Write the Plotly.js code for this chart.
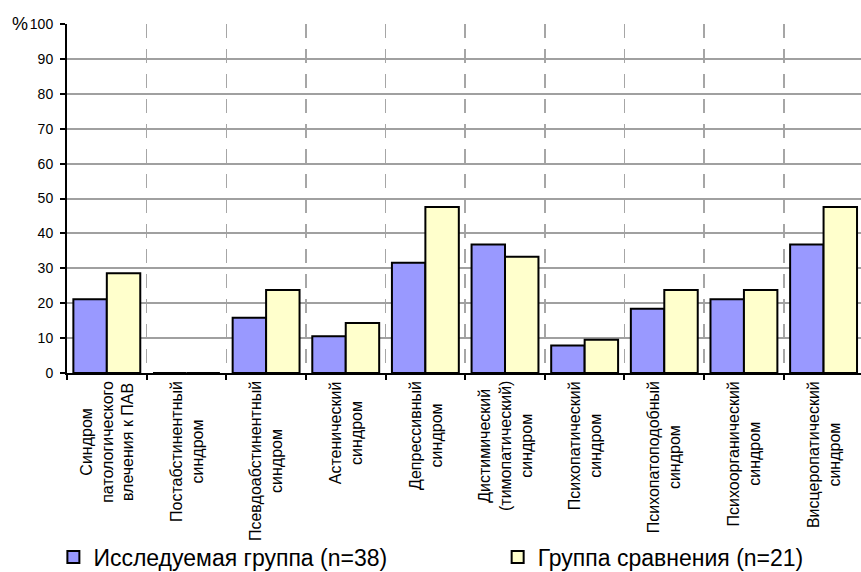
<!DOCTYPE html>
<html>
<head>
<meta charset="utf-8">
<script src="https://cdn.plot.ly/plotly-3.0.1.min.js"></script>
<style>html,body{margin:0;padding:0;background:#fff;}#chart{width:861px;height:572px;}</style>
</head>
<body>
<div id="chart"></div>
<script>
const categories = [
  "Синдром<br>патологического<br>влечения к ПАВ",
  "Постабстинентный<br>синдром",
  "Псевдоабстинентный<br>синдром",
  "Астенический<br>синдром",
  "Депрессивный<br>синдром",
  "Дистимический<br>(тимопатический)<br>синдром",
  "Психопатический<br>синдром",
  "Психопатоподобный<br>синдром",
  "Психоорганический<br>синдром",
  "Висцеропатический<br>синдром"
];
const studyGroup = [21.1, 0, 15.8, 10.5, 31.6, 36.8, 7.9, 18.4, 21.1, 36.8];
const compareGroup = [28.6, 0, 23.8, 14.3, 47.6, 33.3, 9.5, 23.8, 23.8, 47.6];
const seriesNames = ["Исследуемая группа (n=38)", "Группа сравнения (n=21)"];
const yTicks = [0, 10, 20, 30, 40, 50, 60, 70, 80, 90, 100];

const font = "Liberation Sans, Arial, sans-serif";

const traces = [
  {type: "bar", name: seriesNames[0], x: categories, y: studyGroup, legend: "legend",
   marker: {color: "#9999ff", line: {color: "#000", width: 2}}},
  {type: "bar", name: seriesNames[1], x: categories, y: compareGroup, legend: "legend2",
   marker: {color: "#ffffcc", line: {color: "#000", width: 2}}}
];

const annotations = categories.map((c) => ({
  x: c, y: 0, xref: "x", yref: "y", text: c, textangle: -90,
  showarrow: false, xanchor: "center", yanchor: "top", yshift: -6, align: "center",
  font: {family: font, size: 16, color: "#000"}
}));
annotations.push({
  x: 0, y: 1, xref: "paper", yref: "paper", text: "%", showarrow: false,
  xanchor: "left", yanchor: "middle", xshift: -57, yshift: 0,
  font: {family: font, size: 18, color: "#000"}
});

const legendBase = {
  orientation: "h", xref: "container", yref: "container", xanchor: "left", yanchor: "middle",
  y: 0.026, font: {family: font, size: 23, color: "#000"}, bgcolor: "rgba(0,0,0,0)",
  borderwidth: 0
};

const layout = {
  width: 861, height: 572,
  margin: {l: 67, r: 0, t: 24, b: 199},
  paper_bgcolor: "#fff", plot_bgcolor: "#fff",
  barmode: "group", bargap: 0.16, bargroupgap: 0,
  xaxis: {
    type: "category", range: [-0.5, 9.47], showticklabels: false,
    tickson: "boundaries", ticks: "outside", ticklen: 5, tickwidth: 2, tickcolor: "#000",
    showgrid: true, gridcolor: "#a6a6a6", gridwidth: 1.5, griddash: "14px,11px",
    showline: true, linecolor: "#000", linewidth: 2, zeroline: false
  },
  yaxis: {
    range: [0, 100], tickvals: yTicks, ticks: "outside", ticklen: 5, tickwidth: 2,
    tickcolor: "#000", showline: true, linecolor: "#000", linewidth: 2,
    showgrid: true, gridcolor: "#a0a0a0", gridwidth: 2, zeroline: false,
    tickfont: {family: font, size: 14, color: "#000"}, ticklabelstandoff: 4
  },
  showlegend: true,
  legend: Object.assign({}, legendBase, {x: 0.062}),
  legend2: Object.assign({}, legendBase, {x: 0.578}),
  annotations: annotations
};

Plotly.newPlot("chart", traces, layout, {displayModeBar: false, staticPlot: true});
</script>
</body>
</html>
